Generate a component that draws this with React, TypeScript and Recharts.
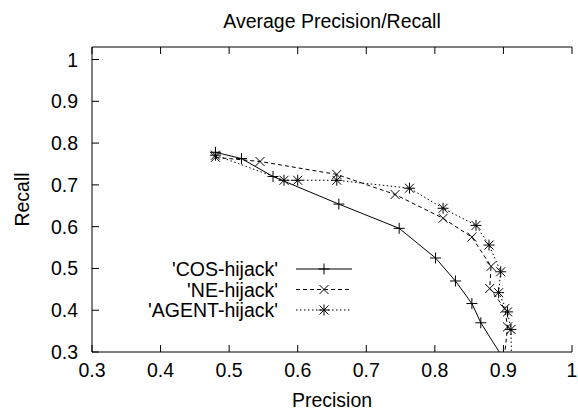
import React from 'react';
import { LineChart, Line, XAxis, YAxis } from 'recharts';

const cosPrecision = [0.480, 0.518, 0.564, 0.660, 0.748, 0.801, 0.830, 0.854, 0.867, 0.913];
const cosRecall = [0.778, 0.763, 0.720, 0.654, 0.596, 0.525, 0.470, 0.416, 0.370, 0.250];

const nePrecision = [0.480, 0.545, 0.657, 0.742, 0.812, 0.854, 0.882, 0.880, 0.902, 0.906, 0.899];
const neRecall = [0.766, 0.756, 0.725, 0.677, 0.620, 0.575, 0.505, 0.452, 0.404, 0.360, 0.250];

const agentPrecision = [0.480, 0.580, 0.600, 0.657, 0.763, 0.812, 0.860, 0.879, 0.896, 0.893, 0.906, 0.911, 0.912];
const agentRecall = [0.771, 0.711, 0.711, 0.711, 0.692, 0.644, 0.603, 0.556, 0.492, 0.442, 0.396, 0.354, 0.250];

const xTicks = [0.3, 0.4, 0.5, 0.6, 0.7, 0.8, 0.9, 1];
const yTicks = [0.3, 0.4, 0.5, 0.6, 0.7, 0.8, 0.9, 1];
const seriesNames = ["'COS-hijack'", "'NE-hijack'", "'AGENT-hijack'"];
const chartTitle = 'Average Precision/Recall';
const xTitle = 'Precision';
const yTitle = 'Recall';

const cosData = cosPrecision.map((x, i) => ({ x, y: cosRecall[i] }));
const neData = nePrecision.map((x, i) => ({ x, y: neRecall[i] }));
const agentData = agentPrecision.map((x, i) => ({ x, y: agentRecall[i] }));

const FONT = "'Liberation Sans', Arial, Helvetica, sans-serif";
const FS = 19.5;
const TICK = 7;

const plusPath = (cx: number, cy: number) => `M${cx - 5.5},${cy}H${cx + 5.5}M${cx},${cy - 5.5}V${cy + 5.5}`;
const crossPath = (cx: number, cy: number) => `M${cx - 4.5},${cy - 4.5}L${cx + 4.5},${cy + 4.5}M${cx - 4.5},${cy + 4.5}L${cx + 4.5},${cy - 4.5}`;
const starPath = (cx: number, cy: number) => plusPath(cx, cy) + crossPath(cx, cy);

const makeDot = (kind: string) => (props: any) => {
  const { cx, cy, index } = props;
  if (cx == null || cy == null) return <g key={`${kind}-${index}`} />;
  const d = kind === 'plus' ? plusPath(cx, cy) : kind === 'cross' ? crossPath(cx, cy) : starPath(cx, cy);
  return <path key={`${kind}-${index}`} d={d} stroke="#000" strokeWidth={1} fill="none" />;
};

const fmt = (v: number) => String(Math.round(v * 10) / 10);

const BottomTick = (p: any) => (
  <g>
    <line x1={p.x} x2={p.x} y1={p.y} y2={p.y - TICK} stroke="#000" strokeWidth={1} />
    <text x={p.x} y={p.y + 25} textAnchor="middle" fontFamily={FONT} fontSize={FS} fill="#000">
      {fmt(p.payload.value)}
    </text>
  </g>
);
const TopTick = (p: any) => (
  <line x1={p.x} x2={p.x} y1={p.y} y2={p.y + TICK} stroke="#000" strokeWidth={1} />
);
const LeftTick = (p: any) => (
  <g>
    <line x1={p.x} x2={p.x + TICK} y1={p.y} y2={p.y} stroke="#000" strokeWidth={1} />
    <text x={p.x - 14} y={p.y + 7} textAnchor="end" fontFamily={FONT} fontSize={FS} fill="#000">
      {fmt(p.payload.value)}
    </text>
  </g>
);
const RightTick = (p: any) => (
  <line x1={p.x} x2={p.x - TICK} y1={p.y} y2={p.y} stroke="#000" strokeWidth={1} />
);

const legendItems = [
  { name: seriesNames[0], dash: undefined as string | undefined, kind: 'plus' },
  { name: seriesNames[1], dash: '4 3', kind: 'cross' },
  { name: seriesNames[2], dash: '1.5 2.5', kind: 'star' },
];

export default function App() {
  return (
    <div style={{ position: 'absolute', left: 0, top: 0, width: 578, height: 412, background: '#fff' }}>
      <LineChart width={578} height={412} margin={{ top: 46, right: 6, bottom: 0, left: 0 }}>
        <XAxis
          xAxisId="bottom"
          type="number"
          dataKey="x"
          domain={[0.3, 1]}
          ticks={xTicks}
          interval={0}
          allowDataOverflow
          height={60}
          tickSize={0}
          tickMargin={0}
          tickLine={false}
          axisLine={{ stroke: '#000', strokeWidth: 1 }}
          tick={<BottomTick />}
          label={{
            content: (lp: any) => {
              const vb = lp.viewBox;
              return (
                <text x={vb.x + vb.width / 2} y={vb.y + 54.5} textAnchor="middle" fontFamily={FONT} fontSize={FS} fill="#000">
                  {xTitle}
                </text>
              );
            },
          }}
        />
        <XAxis
          xAxisId="top"
          orientation="top"
          type="number"
          dataKey="x"
          domain={[0.3, 1]}
          ticks={xTicks}
          interval={0}
          allowDataOverflow
          height={1}
          tickSize={0}
          tickMargin={0}
          tickLine={false}
          axisLine={{ stroke: '#000', strokeWidth: 1 }}
          tick={<TopTick />}
          label={{
            content: (lp: any) => {
              const vb = lp.viewBox;
              return (
                <text x={vb.x + vb.width / 2} y={vb.y + vb.height - 19} textAnchor="middle" fontFamily={FONT} fontSize={FS} fill="#000">
                  {chartTitle}
                </text>
              );
            },
          }}
        />
        <YAxis
          yAxisId="left"
          type="number"
          domain={[0.3, 1.03]}
          ticks={yTicks}
          interval={0}
          allowDataOverflow
          width={92}
          tickSize={0}
          tickMargin={0}
          tickLine={false}
          axisLine={{ stroke: '#000', strokeWidth: 1 }}
          tick={<LeftTick />}
          label={{
            content: (lp: any) => {
              const vb = lp.viewBox;
              const cy = vb.y + vb.height / 2;
              return (
                <text x={29} y={cy} transform={`rotate(-90, 29, ${cy})`} textAnchor="middle" fontFamily={FONT} fontSize={FS} fill="#000">
                  {yTitle}
                </text>
              );
            },
          }}
        />
        <YAxis
          yAxisId="right"
          orientation="right"
          type="number"
          domain={[0.3, 1.03]}
          ticks={yTicks}
          interval={0}
          allowDataOverflow
          width={0}
          tickSize={0}
          tickMargin={0}
          tickLine={false}
          axisLine={{ stroke: '#000', strokeWidth: 1 }}
          tick={<RightTick />}
        />
        <Line data={cosData} dataKey="y" xAxisId="bottom" yAxisId="left" type="linear" stroke="#000" strokeWidth={1} dot={makeDot('plus')} activeDot={false} isAnimationActive={false} />
        <Line data={neData} dataKey="y" xAxisId="bottom" yAxisId="left" type="linear" stroke="#000" strokeWidth={1} strokeDasharray="4 3" dot={makeDot('cross')} activeDot={false} isAnimationActive={false} />
        <Line data={agentData} dataKey="y" xAxisId="bottom" yAxisId="left" type="linear" stroke="#000" strokeWidth={1} strokeDasharray="1.5 2.5" dot={makeDot('star')} activeDot={false} isAnimationActive={false} />
      </LineChart>
      <svg width={578} height={412} style={{ position: 'absolute', left: 0, top: 0, pointerEvents: 'none' }}>
        {legendItems.map((it, i) => {
          const cy = 269 + i * 20.5;
          const d = it.kind === 'plus' ? plusPath(324, cy) : it.kind === 'cross' ? crossPath(324, cy) : starPath(324, cy);
          return (
            <g key={it.name}>
              <text x={278} y={cy + 7} textAnchor="end" fontFamily={FONT} fontSize={FS} fill="#000">{it.name}</text>
              <line x1={296} x2={352} y1={cy} y2={cy} stroke="#000" strokeWidth={1} strokeDasharray={it.dash} />
              <path d={d} stroke="#000" strokeWidth={1} fill="none" />
            </g>
          );
        })}
      </svg>
    </div>
  );
}
